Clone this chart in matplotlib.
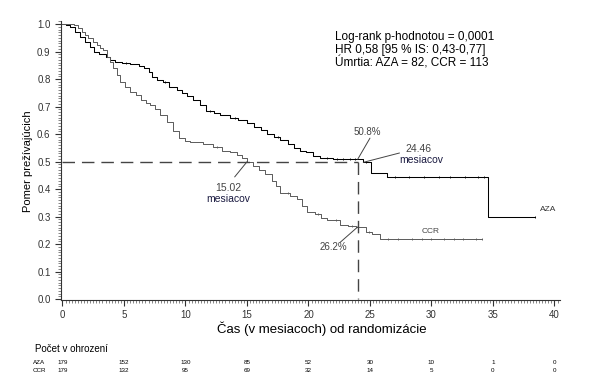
# Kaplan-Meier: AZA vs CCR, celkove prezivanie
import numpy as np
import matplotlib
matplotlib.use('Agg')
import matplotlib.pyplot as plt
from matplotlib.ticker import MultipleLocator, FormatStrFormatter
import matplotlib.transforms as mtrans

plt.rcParams['font.family'] = ['Liberation Sans', 'DejaVu Sans']

# krivka AZA (cas v mesiacoch, podiel preziviajucich)
aza_t = [0, 0.3, 0.6, 1.0, 1.4, 1.8, 2.2, 2.6, 3.0, 3.5, 3.9, 4.3, 4.8, 5.5, 6.2, 6.6,
         7.0, 7.3, 7.7, 8.2, 8.7, 9.3, 9.7, 10.1, 10.6, 11.2, 11.7, 12.3, 12.8, 13.6,
         14.3, 15.0, 15.6, 16.1, 16.6, 17.2, 17.7, 18.3, 18.8, 19.3, 19.8, 20.4, 20.9,
         22.0, 23.0, 24.46, 25.1, 26.4, 34.6, 38.4]
aza_s = [1.0, 0.996, 0.99, 0.972, 0.954, 0.936, 0.918, 0.90, 0.89, 0.881, 0.87, 0.863,
         0.857, 0.853, 0.849, 0.839, 0.827, 0.809, 0.796, 0.79, 0.772, 0.76, 0.75, 0.74,
         0.725, 0.705, 0.685, 0.675, 0.67, 0.66, 0.65, 0.64, 0.625, 0.615, 0.60, 0.59,
         0.58, 0.565, 0.55, 0.54, 0.535, 0.52, 0.513, 0.51, 0.508, 0.497, 0.46, 0.445,
         0.30, 0.30]
aza_cens = [5.2, 8.3, 12.0, 14.0, 17.5, 21.5, 22.3, 22.8, 23.4, 23.8, 24.7, 27.0, 28.2,
            29.4, 30.6, 31.5, 32.7, 33.8, 34.3, 38.4]

# krivka CCR
ccr_t = [0, 0.9, 1.3, 1.6, 1.8, 2.1, 2.5, 2.8, 3.05, 3.3, 3.6, 3.9, 4.1, 4.4, 4.7, 5.1,
         5.5, 6.0, 6.4, 6.8, 7.1, 7.5, 7.9, 8.5, 9.0, 9.5, 10.0, 10.4, 11.4, 12.2, 13.0,
         13.6, 14.2, 14.6, 15.0, 15.5, 16.0, 16.5, 17.0, 17.4, 17.7, 18.5, 19.1, 19.5,
         19.9, 20.5, 21.0, 21.5, 22.6, 23.2, 23.9, 24.7, 25.2, 25.8, 34.1]
ccr_s = [1.0, 0.996, 0.984, 0.972, 0.96, 0.948, 0.936, 0.924, 0.912, 0.905, 0.881,
         0.863, 0.839, 0.815, 0.79, 0.772, 0.754, 0.742, 0.724, 0.712, 0.705, 0.69,
         0.67, 0.645, 0.61, 0.585, 0.575, 0.57, 0.565, 0.553, 0.54, 0.535, 0.524, 0.512,
         0.50, 0.485, 0.47, 0.455, 0.43, 0.41, 0.385, 0.375, 0.365, 0.34, 0.317, 0.31,
         0.295, 0.287, 0.27, 0.265, 0.262, 0.245, 0.235, 0.22, 0.22]
ccr_cens = [12.6, 18.3, 20.8, 22.2, 23.5, 24.9, 26.5, 27.3, 28.4, 29.2, 30.0, 31.0, 31.8,
            32.6, 33.6, 34.1]

# pocet v ohrozeni
risk_t = [0, 5, 10, 15, 20, 25, 30, 35, 40]
risk_aza = [179, 152, 130, 85, 52, 30, 10, 1, 0]
risk_ccr = [179, 132, 95, 69, 32, 14, 5, 0, 0]

median_aza = 24.46
median_ccr = 15.02
surv24_aza = 0.508
surv24_ccr = 0.262


def s_at(tl, sl, x):
    i = np.searchsorted(tl, x, side='right') - 1
    return sl[i]


fig = plt.figure(figsize=(6.03, 3.82), dpi=100)
ax = fig.add_axes([61/603, 1-300/382, 499/603, 279/382])

ax.step(aza_t, aza_s, where='post', color='black', lw=0.75)
ax.step(ccr_t, ccr_s, where='post', color='#5a5a5a', lw=0.7)
ax.plot(aza_cens, [s_at(aza_t, aza_s, c) for c in aza_cens], ls='none',
        marker='|', ms=2, mew=0.6, color='black')
ax.plot(ccr_cens, [s_at(ccr_t, ccr_s, c) for c in ccr_cens], ls='none',
        marker='|', ms=2, mew=0.6, color='#5a5a5a')

# referencne ciary (median, 24 mesiacov)
ax.plot([0, 24], [0.5, 0.5], color='#444444', lw=1.0, dashes=(9, 5))
ax.plot([24, 24], [0.5, 0], color='#444444', lw=1.0, dashes=(9, 5))

ax.set_xlim(-0.12, 40.45)
ax.set_ylim(-0.0036, 1.011)
ax.xaxis.set_major_locator(MultipleLocator(5))
ax.xaxis.set_minor_locator(MultipleLocator(0.25))
ax.yaxis.set_major_locator(MultipleLocator(0.1))
ax.yaxis.set_minor_locator(MultipleLocator(0.01))
ax.yaxis.set_major_formatter(FormatStrFormatter('%.1f'))
ax.tick_params(which='major', length=4, width=0.8, labelsize=7, colors='#333333')
ax.tick_params(which='minor', length=2, width=0.5, colors='#555555')
for sp in ['top', 'right']:
    ax.spines[sp].set_visible(False)
for sp in ['left', 'bottom']:
    ax.spines[sp].set_color('#333333')
    ax.spines[sp].set_linewidth(0.8)

# popisky
lc = dict(arrowstyle='-', color='#444444', lw=0.7, shrinkA=0, shrinkB=0)
ax.annotate('', xy=(median_ccr, 0.5), xytext=(14.0, 0.444), arrowprops=lc)
ax.text(13.5, 0.404, '15.02', fontsize=7.5, color='#444444', ha='center', va='center')
ax.text(13.5, 0.364, 'mesiacov', fontsize=7.5, color='#1a1a40', ha='center', va='center')

ax.annotate('', xy=(24, surv24_aza), xytext=(25.0, 0.585), arrowprops=lc)
ax.text(24.8, 0.607, '50.8%', fontsize=7, color='#444444', ha='center', va='center')

ax.annotate('', xy=(median_aza, 0.497), xytext=(27.4, 0.531), arrowprops=lc)
ax.text(28.9, 0.545, '24.46', fontsize=7.5, color='#444444', ha='center', va='center')
ax.text(29.2, 0.506, 'mesiacov', fontsize=7.5, color='#1a1a40', ha='center', va='center')

ax.annotate('', xy=(24, surv24_ccr), xytext=(22.6, 0.207), arrowprops=lc)
ax.text(22.0, 0.189, '26.2%', fontsize=7, color='#444444', ha='center', va='center')

ax.text(39.5, 0.324, 'AZA', fontsize=6, color='#333333', ha='center', va='center')
ax.text(29.9, 0.244, 'CCR', fontsize=6, color='#444444', ha='center', va='center')

# statistika
fig.text(335/603, 1-37/382, 'Log-rank p-hodnotou = 0,0001', fontsize=8.5, va='center')
fig.text(335/603, 1-50/382, 'HR 0,58 [95 % IS: 0,43-0,77]', fontsize=8.5, va='center')
fig.text(335/603, 1-63/382, 'Úmrtia: AZA = 82, CCR = 113', fontsize=8.5, va='center')

fig.text(28/603, 1-161/382, 'Pomer prežívajúcich', rotation=90, fontsize=8,
         ha='center', va='center')
fig.text(322/603, 1-329/382, 'Čas (v mesiacoch) od randomizácie', fontsize=9.5,
         ha='center', va='center')

# tabulka pocet v ohrozeni
fig.text(35/603, 1-349/382, 'Počet v ohrození', fontsize=7, va='center')
tr = mtrans.blended_transform_factory(ax.transData, fig.transFigure)
fig.text(33/603, 1-363/382, 'AZA', fontsize=4.5, va='center')
fig.text(33/603, 1-370/382, 'CCR', fontsize=4.5, va='center')
for x, a, c in zip(risk_t, risk_aza, risk_ccr):
    ax.text(x, 1-363/382, str(a), transform=tr, fontsize=4.5, ha='center', va='center')
    ax.text(x, 1-370/382, str(c), transform=tr, fontsize=4.5, ha='center', va='center')

fig.savefig('out.png', dpi=100)
